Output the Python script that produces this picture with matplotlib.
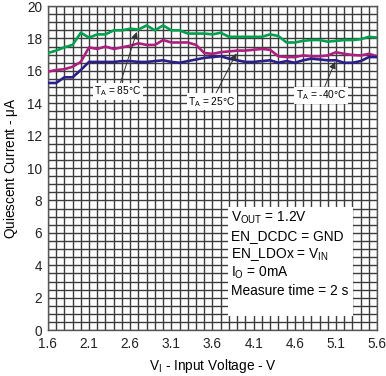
import numpy as np
import matplotlib
matplotlib.use('Agg')
import matplotlib.pyplot as plt

plt.rcParams['font.family'] = ['Liberation Sans', 'DejaVu Sans']
plt.rcParams['mathtext.fontset'] = 'custom'
plt.rcParams['mathtext.rm'] = 'Liberation Sans'

# input voltage, 0.1 V steps
vin = [1.6, 1.7, 1.8, 1.9, 2.0, 2.1, 2.2, 2.3, 2.4, 2.5,
       2.6, 2.7, 2.8, 2.9, 3.0, 3.1, 3.2, 3.3, 3.4, 3.5,
       3.6, 3.7, 3.8, 3.9, 4.0, 4.1, 4.2, 4.3, 4.4, 4.5,
       4.6, 4.7, 4.8, 4.9, 5.0, 5.1, 5.2, 5.3, 5.4, 5.5, 5.6]

iq_85 = [17.1, 17.25, 17.45, 17.6, 18.35, 18.05, 18.25, 18.25, 18.5, 18.5,
         18.6, 18.55, 18.8, 18.5, 18.8, 18.5, 18.5, 18.3, 18.3, 18.3,
         18.25, 18.35, 18.1, 18.1, 18.1, 18.1, 18.1, 18.25, 18.15, 17.75,
         17.75, 17.85, 17.9, 17.9, 17.8, 17.85, 17.9, 17.9, 17.95, 18.1, 18.05]

iq_25 = [15.95, 16.05, 16.1, 16.25, 16.55, 17.45, 17.35, 17.5, 17.35, 17.45,
         17.55, 17.7, 17.6, 17.6, 17.9, 17.75, 17.75, 17.75, 17.6, 17.1,
         17.05, 17.15, 17.2, 17.25, 17.25, 17.3, 17.35, 17.3, 16.9, 16.85,
         16.85, 16.95, 16.9, 16.9, 16.95, 17.15, 17.05, 16.98, 16.95, 17.05, 16.9]

iq_m40 = [15.25, 15.25, 15.6, 15.6, 16.05, 16.55, 16.55, 16.55, 16.55, 16.6,
          16.6, 16.55, 16.55, 16.6, 16.65, 16.55, 16.5, 16.6, 16.7, 16.8,
          16.85, 16.9, 16.75, 16.65, 16.55, 16.55, 16.6, 16.65, 16.5, 16.6,
          16.5, 16.65, 16.75, 16.7, 16.65, 16.65, 16.5, 16.5, 16.6, 16.85, 16.85]

xticks = [1.6, 2.1, 2.6, 3.1, 3.6, 4.1, 4.6, 5.1, 5.6]
yticks = [0, 2, 4, 6, 8, 10, 12, 14, 16, 18, 20]

fig = plt.figure(figsize=(3.86, 3.76), dpi=100)
ax = fig.add_axes([0.124, 0.122, 0.853, 0.862])

# dense grid: 0.1 V by 0.5 uA
ax.set_xticks(np.arange(1.6, 5.61, 0.1), minor=True)
ax.set_yticks(np.arange(0, 20.01, 0.5), minor=True)
ax.grid(which='both', color='#3c3c3c', linewidth=1.0)
ax.set_axisbelow(True)

ax.plot(vin, iq_85, color='#00a04f', lw=1.9, zorder=3)
ax.plot(vin, iq_25, color='#ad1f80', lw=1.9, zorder=3)
ax.plot(vin, iq_m40, color='#2b1f8a', lw=1.9, zorder=3)

ax.set_xlim(1.6, 5.6)
ax.set_ylim(0, 20)
ax.set_xticks(xticks)
ax.set_xticklabels([f'{v:.1f}' for v in xticks])
ax.set_yticks(yticks)
ax.tick_params(which='both', length=0, labelsize=9.8, colors='#222222')
ax.tick_params(axis='x', pad=5)
ax.tick_params(axis='y', pad=4)
for s in ax.spines.values():
    s.set_color('#555555')
    s.set_linewidth(1.0)

ax.set_xlabel(r'V$_\mathregular{I}$ - Input Voltage - V', fontsize=9.8, labelpad=4)
ax.set_ylabel(r'Quiescent Current - $\mathregular{\mu}$A', fontsize=9.8, labelpad=5)

# temperature labels with arrows
box = dict(boxstyle='square,pad=0.15', fc='white', ec='none')
arrow = dict(arrowstyle='-|>', color='#333333', lw=0.7, mutation_scale=10,
             shrinkA=0, shrinkB=0)
ax.annotate(r'T$_\mathregular{A}$ = 85°C', xy=(2.68, 18.4), xytext=(2.45, 14.75),
            fontsize=7.3, ha='center', va='center', bbox=box, arrowprops=arrow, zorder=5)
ax.annotate(r'T$_\mathregular{A}$ = 25°C', xy=(3.89, 17.08), xytext=(3.59, 14.1),
            fontsize=7.3, ha='center', va='center', bbox=box, arrowprops=arrow, zorder=5)
ax.annotate(r'T$_\mathregular{A}$ = -40°C', xy=(5.09, 16.56), xytext=(4.92, 14.5),
            fontsize=7.3, ha='center', va='center', bbox=box, arrowprops=arrow, zorder=5)

# conditions box
ax.fill_between([3.79, 5.31], 0.86, 7.6, color='white', zorder=4, lw=0)
cond = [r'V$_\mathregular{OUT}$ = 1.2V',
        'EN_DCDC = GND',
        r'EN_LDOx = V$_\mathregular{IN}$',
        r'I$_\mathregular{O}$ = 0mA',
        'Measure time = 2 s']
for i, t in enumerate(cond):
    ax.text(3.82, 6.95 - i * 1.14, t, fontsize=9.9, ha='left', va='center', zorder=5)

fig.savefig('out.png', dpi=100)
